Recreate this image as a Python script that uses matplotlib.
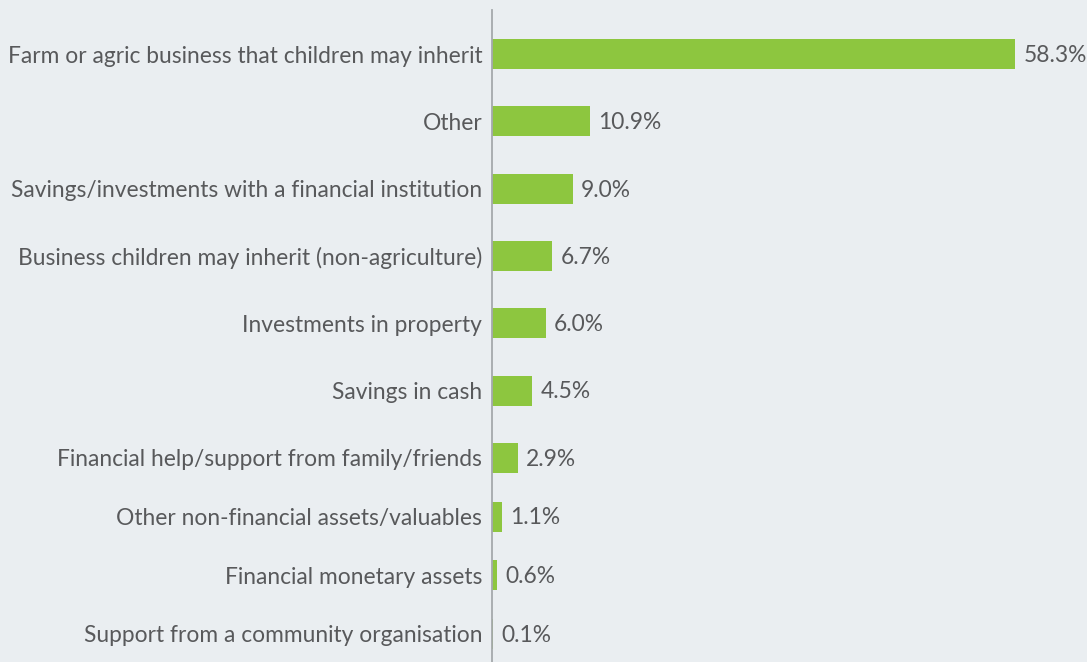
import numpy as np
import matplotlib
matplotlib.use("Agg")
import matplotlib.pyplot as plt

# data
categories = [
    "Farm or agric business that children may inherit",
    "Other",
    "Savings/investments with a financial institution",
    "Business children may inherit (non-agriculture)",
    "Investments in property",
    "Savings in cash",
    "Financial help/support from family/friends",
    "Other non-financial assets/valuables",
    "Financial monetary assets",
    "Support from a community organisation",
]
values = [58.3, 10.9, 9.0, 6.7, 6.0, 4.5, 2.9, 1.1, 0.6, 0.1]

bg = "#eaeef1"
green = "#8dc63f"
txt = "#58595b"
fs = 16.4

plt.rcParams['font.family'] = ['Lato', 'DejaVu Sans']

# rows: first seven evenly spaced, last three a bit tighter
steps = [0] + [1.0] * 6 + [0.872] * 3
ypos = np.cumsum(steps)

fig = plt.figure(figsize=(10.87, 6.62), dpi=100, facecolor=bg)
ax = fig.add_axes([492 / 1087, 0, 1 - 492 / 1087, 1 - 10 / 662])
ax.set_facecolor(bg)

ax.barh(ypos, values, height=0.446, color=green, zorder=2)
ax.set_xlim(0, 595 / 8.97)
ax.set_ylim(ypos[-1] + 0.416, -0.654)

# value labels just right of each bar
for y, v in zip(ypos, values):
    ax.annotate(f"{v:.1f}%", (v, y), xytext=(6, -1), textcoords="offset points",
                va="center", ha="left", fontsize=fs, color=txt)

ax.set_yticks(ypos)
ax.set_yticklabels(categories, fontsize=fs, color=txt)
ax.tick_params(axis="y", length=0, pad=7)
ax.set_xticks([])
for s in ["top", "right", "bottom"]:
    ax.spines[s].set_visible(False)
ax.spines["left"].set_color("#a5a9ac")
ax.spines["left"].set_linewidth(1.3)
ax.spines["left"].set_zorder(3)

fig.savefig("out.png", dpi=100, facecolor=bg)
